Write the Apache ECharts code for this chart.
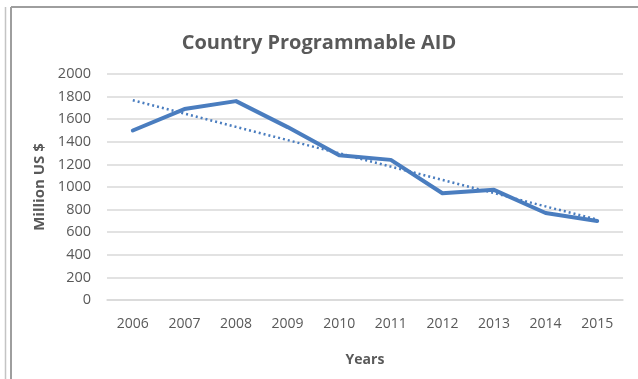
<!DOCTYPE html>
<html>
<head>
<meta charset="utf-8">
<style>
  html, body { margin: 0; padding: 0; background: #ffffff; }
  #chart { width: 638px; height: 379px; }
</style>
<script src="https://cdn.jsdelivr.net/npm/echarts@6/dist/echarts.min.js"></script>
</head>
<body>
<div id="chart"></div>
<script>
// Country Programmable Aid, million US $, by year
const years = ['2006', '2007', '2008', '2009', '2010', '2011', '2012', '2013', '2014', '2015'];
const aidValues = [1500, 1690, 1760, 1530, 1280, 1240, 945, 975, 770, 700];
const yTicks = { min: 0, max: 2000, interval: 200 };

// Least-squares linear trend over the year index
function linearTrend(values) {
  const n = values.length;
  const mx = (n - 1) / 2;
  const my = values.reduce((a, b) => a + b, 0) / n;
  let sxy = 0, sxx = 0;
  values.forEach((v, i) => { sxy += (i - mx) * (v - my); sxx += (i - mx) * (i - mx); });
  const slope = sxy / sxx;
  return values.map((_, i) => +(my + slope * (i - mx)).toFixed(1));
}
const trendValues = linearTrend(aidValues);

const textGray = '#595959';
const lineBlue = '#4a7dbf';
const font = '"Open Sans", "Noto Sans", sans-serif';

const chart = echarts.init(document.getElementById('chart'), null, { renderer: 'canvas' });
chart.setOption({
  animation: false,
  backgroundColor: '#ffffff',
  title: {
    text: 'Country Programmable AID',
    left: 'center',
    top: 28,
    textStyle: { color: textGray, fontFamily: font, fontWeight: 'bold', fontSize: 20 }
  },
  grid: { left: 107, right: 15, top: 74, bottom: 79, containLabel: false },
  xAxis: {
    type: 'category',
    data: years,
    boundaryGap: true,
    name: 'Years',
    nameLocation: 'middle',
    nameGap: 53,
    nameTextStyle: { color: textGray, fontFamily: font, fontWeight: 'bold', fontSize: 14 },
    axisLine: { show: true, lineStyle: { color: '#d9d9d9', width: 1.5 } },
    axisTick: { show: false },
    axisLabel: { color: textGray, fontFamily: font, fontSize: 14, margin: 17 }
  },
  yAxis: {
    type: 'value',
    min: yTicks.min,
    max: yTicks.max,
    interval: yTicks.interval,
    name: 'Million US $',
    nameLocation: 'middle',
    nameGap: 49,
    nameTextStyle: { color: textGray, fontFamily: font, fontWeight: 'bold', fontSize: 15 },
    axisLine: { show: false },
    axisTick: { show: false },
    axisLabel: { color: textGray, fontFamily: font, fontSize: 14.5, margin: 16, formatter: v => String(v) },
    splitLine: { lineStyle: { color: '#d9d9d9', width: 1.5 } }
  },
  series: [
    {
      name: 'Aid',
      type: 'line',
      data: aidValues,
      symbol: 'none',
      lineStyle: { color: lineBlue, width: 4, join: 'round', cap: 'round' },
      z: 3
    },
    {
      name: 'Linear trend',
      type: 'line',
      data: trendValues,
      symbol: 'none',
      lineStyle: { color: lineBlue, width: 2.5, type: [2, 3] },
      z: 2
    }
  ],
  graphic: [
    { type: 'line', shape: { x1: 5.5, y1: 7, x2: 5.5, y2: 379 }, style: { stroke: '#c4c4c4', lineWidth: 1.5 } },
    { type: 'line', shape: { x1: 11, y1: 7, x2: 11, y2: 379 }, style: { stroke: '#9e9e9e', lineWidth: 2 } },
    { type: 'line', shape: { x1: 11, y1: 7, x2: 638, y2: 7 }, style: { stroke: '#9e9e9e', lineWidth: 2 } }
  ]
});
</script>
</body>
</html>
